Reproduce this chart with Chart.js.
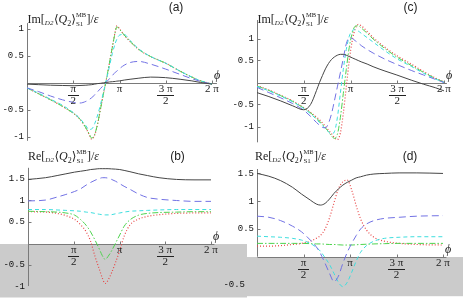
<!DOCTYPE html>
<html>
<head>
<meta charset="utf-8">
<script src="https://cdn.jsdelivr.net/npm/chart.js@4.4.1/dist/chart.umd.min.js"></script>
<style>
html, body { margin: 0; padding: 0; background: #fff; }
#wrap { position: relative; width: 463px; height: 299px; overflow: hidden; }
canvas { position: absolute; left: 0; }
</style>
</head>
<body>
<div id="wrap">
  <canvas id="pb" width="463" height="149" style="top:150px"></canvas>
  <canvas id="pd" width="463" height="149" style="top:150px"></canvas>
  <canvas id="pa" width="463" height="150" style="top:0"></canvas>
  <canvas id="pc" width="463" height="150" style="top:0"></canvas>
</div>
<script>
const PI = Math.PI;

// x ticks, shared by all four panels
const xTickVals = [PI / 2, PI, 3 * PI / 2, 2 * PI];
const xTickNum = ['π', 'π', '3 π', '2 π'];
const xTickDen = ['2', '', '2', ''];

// (a) Im part, first case
const aPhi   = [0, 0.4, 0.8, 1.2, 1.6, 1.8, 2.0, 2.1, 2.2, 2.3, 2.4, 2.5, 2.6, 2.7, 2.8, 2.9, 3.0, 3.05, 3.15, 3.3, 3.5, 3.8, 4.2, 4.7, 5.2, 5.6, 5.9, 6.283];
const aBlack = [-0.03, -0.04, -0.05, -0.055, -0.06, -0.055, -0.05, -0.045, -0.04, -0.03, -0.02, -0.015, -0.005, 0.0, 0.01, 0.015, 0.02, 0.025, 0.03, 0.045, 0.06, 0.08, 0.1, 0.09, 0.06, 0.03, 0.0, -0.03];
const aBlue  = [-0.1, -0.17, -0.25, -0.32, -0.37, -0.38, -0.35, -0.32, -0.28, -0.23, -0.17, -0.11, -0.05, 0.01, 0.07, 0.13, 0.19, 0.21, 0.26, 0.32, 0.37, 0.39, 0.34, 0.25, 0.15, 0.07, 0.02, -0.03];
const aCyan  = [-0.1, -0.2, -0.31, -0.42, -0.57, -0.67, -0.8, -0.87, -0.86, -0.76, -0.6, -0.4, -0.17, 0.06, 0.3, 0.54, 0.73, 0.8, 0.88, 0.89, 0.78, 0.62, 0.48, 0.36, 0.21, 0.1, 0.03, -0.03];
const aGreen = [-0.1, -0.21, -0.32, -0.44, -0.58, -0.68, -0.84, -0.94, -1.03, -0.96, -0.76, -0.48, -0.2, 0.07, 0.36, 0.66, 0.94, 1.03, 0.98, 0.88, 0.76, 0.61, 0.48, 0.36, 0.21, 0.1, 0.03, -0.03];
const aRed   = [-0.1, -0.21, -0.32, -0.44, -0.58, -0.68, -0.84, -0.95, -1.05, -0.97, -0.76, -0.48, -0.2, 0.07, 0.36, 0.66, 0.95, 1.05, 0.99, 0.88, 0.76, 0.61, 0.48, 0.36, 0.21, 0.1, 0.03, -0.03];

// (b) Re part, first case
const bPhi   = [0, 0.6, 1.0, 1.3, 1.6, 1.8, 2.0, 2.15, 2.3, 2.45, 2.55, 2.65, 2.75, 2.87, 3.0, 3.15, 3.3, 3.5, 3.8, 4.1, 4.5, 5.1, 5.7, 6.283];
const bBlack = [1.49, 1.53, 1.58, 1.62, 1.66, 1.68, 1.7, 1.72, 1.73, 1.74, 1.74, 1.74, 1.74, 1.735, 1.73, 1.72, 1.7, 1.67, 1.62, 1.58, 1.53, 1.49, 1.48, 1.48];
const bBlue  = [0.99, 1.01, 1.08, 1.14, 1.21, 1.27, 1.36, 1.42, 1.47, 1.51, 1.53, 1.53, 1.52, 1.49, 1.45, 1.39, 1.33, 1.26, 1.15, 1.07, 1.03, 1.0, 0.98, 0.98];
const bCyan  = [0.79, 0.79, 0.78, 0.77, 0.76, 0.75, 0.73, 0.72, 0.7, 0.68, 0.67, 0.665, 0.665, 0.67, 0.69, 0.71, 0.73, 0.75, 0.76, 0.77, 0.78, 0.79, 0.79, 0.79];
const bGreen = [0.75, 0.74, 0.73, 0.71, 0.66, 0.56, 0.42, 0.27, 0.08, -0.13, -0.28, -0.37, -0.3, -0.17, 0.0, 0.2, 0.4, 0.55, 0.66, 0.7, 0.72, 0.73, 0.74, 0.74];
const bRed   = [0.74, 0.73, 0.7, 0.65, 0.56, 0.44, 0.27, 0.05, -0.3, -0.6, -0.8, -0.93, -0.85, -0.68, -0.45, -0.16, 0.17, 0.43, 0.57, 0.63, 0.67, 0.7, 0.71, 0.71];

// (c) Im part, second case
const cPhi   = [0, 0.4, 0.8, 1.2, 1.57, 1.8, 2.0, 2.1, 2.2, 2.3, 2.4, 2.5, 2.6, 2.7, 2.8, 2.9, 3.0, 3.1, 3.2, 3.3, 3.4, 3.5, 3.7, 3.9, 4.3, 4.7, 5.2, 5.6, 6.0, 6.283];
const cBlack = [-0.23, -0.32, -0.42, -0.53, -0.62, -0.5, -0.18, 0.0, 0.16, 0.31, 0.43, 0.52, 0.58, 0.62, 0.64, 0.64, 0.62, 0.59, 0.56, 0.53, 0.5, 0.47, 0.42, 0.36, 0.26, 0.17, 0.05, -0.04, -0.12, -0.19];
const cBlue  = [-0.11, -0.23, -0.35, -0.48, -0.63, -0.77, -0.91, -0.97, -1.02, -1.03, -0.93, -0.72, -0.42, -0.1, 0.22, 0.55, 0.88, 1.02, 1.0, 0.95, 0.9, 0.84, 0.75, 0.67, 0.53, 0.41, 0.27, 0.17, 0.07, 0.0];
const cCyan  = [-0.09, -0.19, -0.31, -0.44, -0.59, -0.71, -0.84, -0.91, -0.98, -1.05, -1.12, -1.17, -1.12, -0.8, -0.25, 0.3, 0.75, 1.05, 1.18, 1.2, 1.17, 1.12, 1.02, 0.92, 0.72, 0.54, 0.36, 0.21, 0.08, 0.0];
const cGreen = [-0.08, -0.18, -0.3, -0.43, -0.58, -0.69, -0.81, -0.88, -0.95, -1.03, -1.12, -1.21, -1.27, -1.18, -0.8, -0.25, 0.3, 0.8, 1.12, 1.28, 1.29, 1.24, 1.12, 0.99, 0.77, 0.58, 0.38, 0.23, 0.09, 0.01];
const cRed   = [-0.07, -0.17, -0.29, -0.42, -0.57, -0.68, -0.79, -0.85, -0.92, -1.0, -1.08, -1.16, -1.25, -1.3, -1.15, -0.7, -0.1, 0.5, 0.95, 1.22, 1.32, 1.29, 1.16, 1.02, 0.8, 0.61, 0.41, 0.25, 0.1, 0.02];

// (d) Re part, second case
const dPhi   = [0, 0.4, 0.8, 1.2, 1.5, 1.8, 2.0, 2.14, 2.3, 2.45, 2.6, 2.75, 2.9, 3.05, 3.2, 3.35, 3.5, 3.7, 3.95, 4.3, 4.8, 5.4, 6.283];
const dBlack = [1.5, 1.45, 1.37, 1.25, 1.13, 1.02, 0.95, 0.93, 0.96, 1.04, 1.14, 1.22, 1.29, 1.34, 1.38, 1.42, 1.44, 1.47, 1.49, 1.5, 1.51, 1.51, 1.5];
const dBlue  = [0.73, 0.71, 0.65, 0.55, 0.45, 0.3, 0.18, 0.06, -0.12, -0.3, -0.45, -0.35, -0.12, 0.08, 0.24, 0.38, 0.5, 0.59, 0.65, 0.69, 0.71, 0.73, 0.74];
const dCyan  = [0.37, 0.36, 0.35, 0.33, 0.3, 0.24, 0.17, 0.1, -0.02, -0.14, -0.3, -0.46, -0.54, -0.46, -0.28, -0.08, 0.08, 0.2, 0.28, 0.33, 0.35, 0.36, 0.36];
const dGreen = [0.24, 0.24, 0.24, 0.24, 0.24, 0.235, 0.23, 0.23, 0.225, 0.22, 0.22, 0.215, 0.21, 0.21, 0.21, 0.215, 0.22, 0.225, 0.23, 0.235, 0.24, 0.24, 0.24];
const dRed   = [0.19, 0.19, 0.2, 0.22, 0.24, 0.28, 0.33, 0.38, 0.5, 0.7, 0.97, 1.22, 1.35, 1.38, 1.2, 0.92, 0.68, 0.48, 0.35, 0.28, 0.24, 0.22, 0.21];

const lineStyles = {
  black: { color: '#454545', dash: [], width: 1 },
  blue:  { color: '#7272e4', dash: [7, 4], width: 1 },
  cyan:  { color: '#3edede', dash: [4, 3], width: 1 },
  green: { color: '#4ed34e', dash: [6, 2, 1.5, 2], width: 1 },
  red:   { color: '#e84646', dash: [1, 2], width: 1.2 }
};

const serif = '"Liberation Serif","DejaVu Serif",serif';

function drawTitle(ctx, x, y, head) {
  const put = (t, size, dy, style) => {
    ctx.font = style + size + 'px ' + serif;
    ctx.fillText(t, x, y + dy);
    x += ctx.measureText(t).width;
  };
  ctx.textAlign = 'left';
  ctx.textBaseline = 'alphabetic';
  ctx.fillStyle = '#222';
  put(head + '[', 12, 0, '');
  put('D2', 7, 2, 'italic ');
  x += 0.5;
  put('⟨', 12, 0, '');
  put('Q', 12, 0, 'italic ');
  put('2', 8, 3, '');
  put('⟩', 12, 0, '');
  ctx.font = '7px ' + serif;
  const w1 = ctx.measureText('S1').width;
  ctx.fillText('S1', x, y + 3);
  ctx.font = '6.5px ' + serif;
  const w2 = ctx.measureText('MB').width;
  ctx.fillText('MB', x, y - 6);
  x += Math.max(w1, w2) + 0.5;
  put(']/', 12, 0, '');
  put('ε', 12, 0, 'italic ');
}

const decor = {
  id: 'decor',
  beforeDatasetsDraw(chart, args, o) {
    const ctx = chart.ctx, sx = chart.scales.x, sy = chart.scales.y;
    const x0 = Math.round(sx.getPixelForValue(0)) + 0.5;
    const y0 = Math.round(sy.getPixelForValue(0)) + 0.5;
    ctx.save();
    if (o.shade) {
      ctx.fillStyle = '#cbcbcb';
      ctx.fillRect(o.shade.x0, y0 - 0.5, o.shade.x1 - o.shade.x0, o.shade.bottom - y0);
    }
    ctx.strokeStyle = '#7a7a7a';
    ctx.lineWidth = 1;
    ctx.beginPath();
    ctx.moveTo(x0, y0);
    ctx.lineTo(sx.getPixelForValue(o.xEnd), y0);
    ctx.moveTo(x0, sy.getPixelForValue(o.yAxis[0]));
    ctx.lineTo(x0, sy.getPixelForValue(o.yAxis[1]));
    xTickVals.forEach(v => {
      const px = Math.round(sx.getPixelForValue(v)) + 0.5;
      ctx.moveTo(px, y0);
      ctx.lineTo(px, y0 - 3);
    });
    o.yTicks.forEach(v => {
      if (v < o.yAxis[0]) return;
      const py = Math.round(sy.getPixelForValue(v)) + 0.5;
      ctx.moveTo(x0, py);
      ctx.lineTo(x0 + 3, py);
    });
    ctx.stroke();
    ctx.restore();
  },
  afterDatasetsDraw(chart, args, o) {
    const ctx = chart.ctx, sx = chart.scales.x, sy = chart.scales.y;
    const x0 = sx.getPixelForValue(0);
    const y0 = sy.getPixelForValue(0);
    ctx.save();
    ctx.fillStyle = '#111';
    // y tick labels
    ctx.font = '9px "Liberation Mono","DejaVu Sans Mono",monospace';
    ctx.textAlign = 'right';
    ctx.textBaseline = 'middle';
    o.yTicks.forEach((v, i) => {
      const right = (v < 0 && o.negRight) ? o.negRight : x0 - 3;
      ctx.fillText(o.yLabels[i], right, sy.getPixelForValue(v));
    });
    // x tick labels, fractions of pi
    ctx.fillStyle = '#222';
    ctx.textAlign = 'center';
    ctx.font = '11px ' + serif;
    xTickVals.forEach((v, i) => {
      const px = sx.getPixelForValue(v);
      ctx.fillText(xTickNum[i], px, y0 + 6.5);
      if (xTickDen[i]) {
        const w = Math.max(ctx.measureText(xTickNum[i]).width, 8) + 3;
        ctx.fillRect(Math.round(px - w / 2), Math.round(y0 + 12), Math.round(w), 1);
        ctx.fillText(xTickDen[i], px, y0 + 18.5);
      }
    });
    // axis name
    ctx.font = 'italic 12px ' + serif;
    ctx.fillText('ϕ', sx.getPixelForValue(2 * PI) + 5, y0 - 7);
    // panel letter
    ctx.font = '12px "Liberation Sans",Arial,sans-serif';
    ctx.textBaseline = 'alphabetic';
    ctx.fillText(o.letter, o.letterX, o.letterY);
    drawTitle(ctx, o.titleX, o.titleY, o.head);
    ctx.restore();
  }
};

function makePanel(id, phi, series, frame, deco) {
  const names = ['black', 'blue', 'cyan', 'green', 'red'];
  const datasets = series.map((vals, k) => {
    const st = lineStyles[names[k]];
    return {
      data: phi.map((p, i) => ({ x: p, y: vals[i] })),
      borderColor: st.color,
      borderWidth: st.width,
      borderDash: st.dash,
      pointRadius: 0,
      fill: false,
      cubicInterpolationMode: 'monotone'
    };
  });
  const yMax = (frame.zero - frame.top) / frame.unit;
  const yMin = -(frame.height - frame.bottom - frame.zero) / frame.unit;
  new Chart(document.getElementById(id), {
    type: 'line',
    data: { datasets },
    options: {
      responsive: false,
      animation: false,
      events: [],
      layout: { padding: { left: frame.left, right: 463 - frame.right, top: frame.top, bottom: frame.bottom } },
      plugins: { legend: { display: false }, tooltip: { enabled: false }, decor: deco },
      scales: {
        x: { type: 'linear', min: 0, max: 2 * PI, display: false },
        y: { type: 'linear', min: yMin, max: yMax, display: false }
      }
    },
    plugins: [decor]
  });
}

makePanel('pa', aPhi, [aBlack, aBlue, aCyan, aGreen, aRed],
  { left: 27, right: 212, top: 20, bottom: 5, height: 150, zero: 82.5, unit: 54 },
  { head: 'Im', titleX: 27.5, titleY: 22.5, letter: '(a)', letterX: 176, letterY: 11,
    yTicks: [-1, -0.5, 0.5, 1], yLabels: ['-1', '-0.5', '0.5', '1'], yAxis: [-1.08, 1.1], xEnd: 6.45 });

makePanel('pc', cPhi, [cBlack, cBlue, cCyan, cGreen, cRed],
  { left: 257, right: 444, top: 20, bottom: 5, height: 150, zero: 82.5, unit: 44 },
  { head: 'Im', titleX: 257.5, titleY: 22.5, letter: '(c)', letterX: 410.5, letterY: 11,
    yTicks: [-1, -0.5, 0.5, 1], yLabels: ['-1', '-0.5', '0.5', '1'], yAxis: [-1.36, 1.42], xEnd: 6.38 });

makePanel('pb', bPhi, [bBlack, bBlue, bCyan, bGreen, bRed],
  { left: 28, right: 211, top: 10, bottom: 5, height: 149, zero: 93.5, unit: 43 },
  { head: 'Re', titleX: 28, titleY: 9.5, letter: '(b)', letterX: 177.5, letterY: 9.5,
    yTicks: [-1, -0.5, 0.5, 1, 1.5], yLabels: ['-1', '-0.5', '0.5', '1', '1.5'], yAxis: [-0.99, 1.76], xEnd: 6.4,
    shade: { x0: 0, x1: 247, bottom: 148 } });

makePanel('pd', dPhi, [dBlack, dBlue, dCyan, dGreen, dRed],
  { left: 257, right: 443, top: 10, bottom: 5, height: 149, zero: 106.7, unit: 55.5 },
  { head: 'Re', titleX: 255, titleY: 10, letter: '(d)', letterX: 410, letterY: 9.5,
    yTicks: [-0.5, 0.5, 1, 1.5], yLabels: ['-0.5', '0.5', '1', '1.5'], yAxis: [0, 1.58], xEnd: 6.4,
    shade: { x0: 247, x1: 463, bottom: 146.7 }, negRight: 245 });
</script>
</body>
</html>
